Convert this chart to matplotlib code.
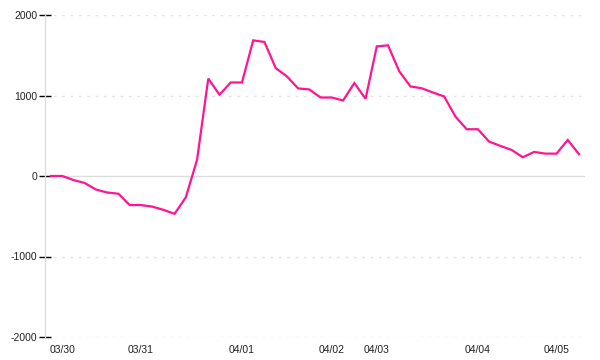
import matplotlib
matplotlib.use("Agg")
import matplotlib.pyplot as plt
import numpy as np

values = [0, 0, -50, -87, -168, -205, -220, -361, -361, -380, -420, -470,
          -265, 200, 1210, 1010, 1162, 1162, 1685, 1665, 1341, 1237, 1088, 1075,
          975, 975, 938, 1154, 959, 1610, 1623, 1300, 1112, 1090, 1037, 988,
          738, 581, 581, 427, 374, 324, 233, 299, 278, 278, 448, 270]
tick_idx = [1, 8, 17, 25, 29, 38, 45]
tick_labels = ["03/30", "03/31", "04/01", "04/02", "04/03", "04/04", "04/05"]
y_ticks = [-2000, -1000, 0, 1000, 2000]

plt.rcParams['font.family'] = ['Liberation Sans', 'DejaVu Sans']

fig = plt.figure(figsize=(6, 3.6), dpi=100)
ax = fig.add_axes([45/600, 23/360, 540/600, 322/360])

x = np.arange(len(values))
for yv in [-2000, -1000, 1000, 2000]:
    ax.axhline(yv, color='#e4e4e4', lw=1, ls=(0, (2, 4)), zorder=1)
ax.axhline(0, color='#dddddd', lw=1, zorder=1)

ax.plot(x, values, color='#ff1493', lw=1.6, zorder=3, solid_joinstyle='miter')

ax.set_xlim(-0.534, len(values) - 1 + 0.534)
ax.set_ylim(-2000, 2000)
ax.set_yticks(y_ticks)
ax.set_yticklabels([str(v) for v in y_ticks])
ax.set_xticks(tick_idx)
ax.set_xticklabels(tick_labels)

for s in ['top', 'right', 'bottom']:
    ax.spines[s].set_visible(False)
ax.spines['left'].set_color('#dddddd')
ax.spines['left'].set_linewidth(1)

ax.tick_params(axis='y', direction='inout', length=9, width=1, color='black',
               labelsize=7.5, labelcolor='#222222', pad=1)
ax.tick_params(axis='x', length=0, labelsize=7.5, labelcolor='#222222', pad=6)

fig.savefig('out.png', dpi=100)
